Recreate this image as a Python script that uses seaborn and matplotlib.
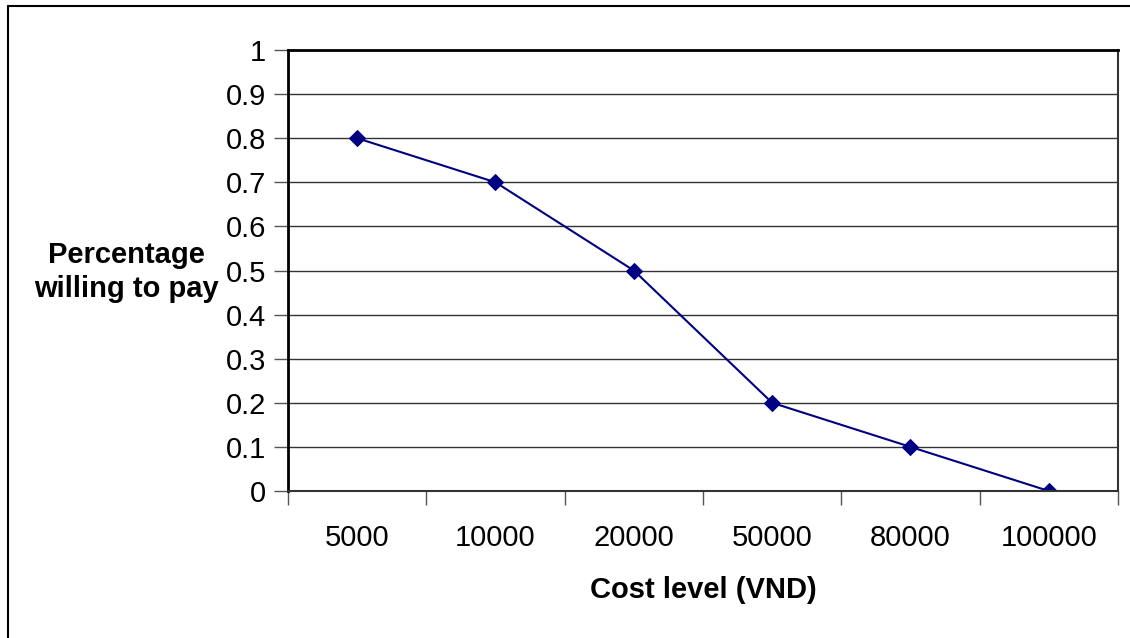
import matplotlib
matplotlib.use("Agg")
import matplotlib.pyplot as plt
import seaborn as sns
import pandas as pd
from matplotlib.lines import Line2D

categories = ["5000", "10000", "20000", "50000", "80000", "100000"]
values = [0.8, 0.7, 0.5, 0.2, 0.1, 0.0]
y_ticks = [0, 0.1, 0.2, 0.3, 0.4, 0.5, 0.6, 0.7, 0.8, 0.9, 1]
y_ticklabels = ["0", "0.1", "0.2", "0.3", "0.4", "0.5", "0.6", "0.7", "0.8", "0.9", "1"]

sns.set_style("white")
plt.rcParams["font.family"] = ["Liberation Sans", "DejaVu Sans"]
plt.rcParams["text.color"] = "black"
plt.rcParams["axes.labelcolor"] = "black"
plt.rcParams["xtick.color"] = "black"
plt.rcParams["ytick.color"] = "black"

FS = 21

df = pd.DataFrame({"cost": categories, "pct": values})

fig = plt.figure(figsize=(11.3, 6.38), dpi=100)
ax = fig.add_axes([288/1130, 1-491/638, (1118-288)/1130, (491-50)/638])

sns.lineplot(data=df, x="cost", y="pct", ax=ax, color="#000080", linewidth=1.5,
             marker="D", markersize=8.5, markeredgecolor="#000080", sort=False)

ax.set_xlim(-0.5, len(categories) - 0.5)
ax.set_ylim(0, 1)
ax.set_yticks(y_ticks)
ax.set_yticklabels(y_ticklabels)
ax.yaxis.grid(True, color="#333333", linewidth=1)
ax.set_axisbelow(True)

ax.set_xticks(range(len(categories)))
ax.set_xticklabels(categories)
ax.set_xticks([i - 0.5 for i in range(len(categories) + 1)], minor=True)
ax.tick_params(axis="x", which="major", length=0, pad=24, labelsize=FS, labelcolor="black")
ax.tick_params(axis="x", which="minor", length=10, width=1, color="#555555", direction="out", bottom=True)
ax.tick_params(axis="y", length=10, width=1, color="#555555", direction="out", left=True,
               labelsize=FS, pad=6, labelcolor="black")

for side in ["left", "top"]:
    ax.spines[side].set_color("black")
    ax.spines[side].set_linewidth(2)
for side in ["right", "bottom"]:
    ax.spines[side].set_color("#333333")
    ax.spines[side].set_linewidth(1.5)

ax.set_xlabel("Cost level (VND)", fontsize=FS, fontweight="bold", labelpad=17, color="black")
ax.set_ylabel("")
fig.text(126/1130, 1-272/638, "Percentage\nwilling to pay", ha="center", va="center",
         fontsize=FS, fontweight="bold", linespacing=1.25, color="black")

fig.add_artist(Line2D([8/1130, 8/1130], [0, 1-6/638], transform=fig.transFigure, color="black", linewidth=1.5))
fig.add_artist(Line2D([8/1130, 1], [1-6/638, 1-6/638], transform=fig.transFigure, color="black", linewidth=1.5))

fig.savefig("out.png", dpi=100)
